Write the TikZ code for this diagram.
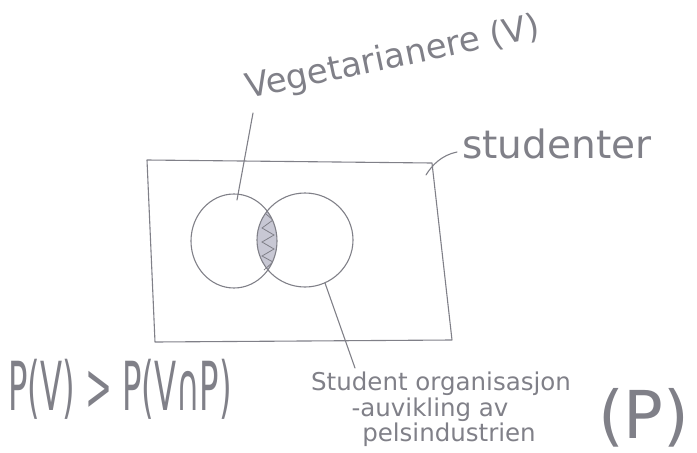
\documentclass[tikz,border=0pt]{standalone}
\usepackage{fontspec}
\setmainfont{DejaVu Sans}
\usepackage{graphicx}
\usetikzlibrary{shapes.geometric}
\definecolor{pencil}{RGB}{128,128,136}
\definecolor{lens}{RGB}{200,200,212}
\tikzset{
  stroke/.style={draw=pencil, line width=1.1pt, line cap=round, line join=round},
  set/.style={ellipse, stroke, inner sep=0pt},
  hand/.style={text=pencil, inner sep=0pt},
}
\begin{document}
\begin{tikzpicture}[x=1pt,y=-1pt]
\useasboundingbox (0,0) rectangle (697,453);
% universe rectangle (hand drawn, slightly skewed)
\coordinate (TL) at (147,160);
\coordinate (TR) at (432,163);
\coordinate (BR) at (452,340);
\coordinate (BL) at (155,342);
\draw[stroke] (TL) -- (TR) -- (BR) -- (BL) -- cycle;
% lens (intersection)
\begin{scope}
  \clip (234,241) ellipse [x radius=43, y radius=47];
  \fill[lens] (305,240) ellipse [x radius=48, y radius=47];
  \draw[draw=pencil, line width=0.8pt] (266,214) -- (273,220) -- (262,228) -- (274,235) -- (262,242) -- (274,249) -- (262,256) -- (273,262) -- (264,270);
\end{scope}
% the two sets
\node[set, minimum width=86pt, minimum height=94pt] (V) at (234,241) {};
\node[set, minimum width=96pt, minimum height=94pt] (P) at (305,240) {};
% labels
\node[hand, font=\fontsize{34}{34}\selectfont, rotate=12, anchor=base west] (vlab) at (248,99) {Vegetarianere (V)};
\node[hand, font=\fontsize{39}{39}\selectfont, anchor=base west] (slab) at (462,158) {studenter};
\node[hand, font=\fontsize{52}{52}\selectfont, anchor=base west] (prob) at (8,410) {\scalebox{0.62}[1.3]{P(V) > P(V∩P)}};
\node[hand, font=\fontsize{24.5}{24.5}\selectfont, anchor=base] (p1) at (441,390) {Student organisasjon};
\node[hand, font=\fontsize{24.5}{24.5}\selectfont, anchor=base] (p2) at (430,416) {-auvikling av};
\node[hand, font=\fontsize{24.5}{24.5}\selectfont, anchor=base] (p3) at (449,441) {pelsindustrien};
\node[hand, font=\fontsize{66}{66}\selectfont, anchor=base west] (plab) at (598,438) {(P)};
% pointers
\coordinate (vtop) at (253,113);
\coordinate (vend) at (237,200);
\draw[stroke] (vtop) -- (vend);
\coordinate (pstart) at (325,283);
\coordinate (pend) at (355,368);
\draw[stroke] (pstart) -- (pend);
\coordinate (sa) at (426,175);
\coordinate (sb) at (457,152);
\draw[stroke] (sa) .. controls (432,165) and (442,155) .. (sb);
\end{tikzpicture}
\end{document}
